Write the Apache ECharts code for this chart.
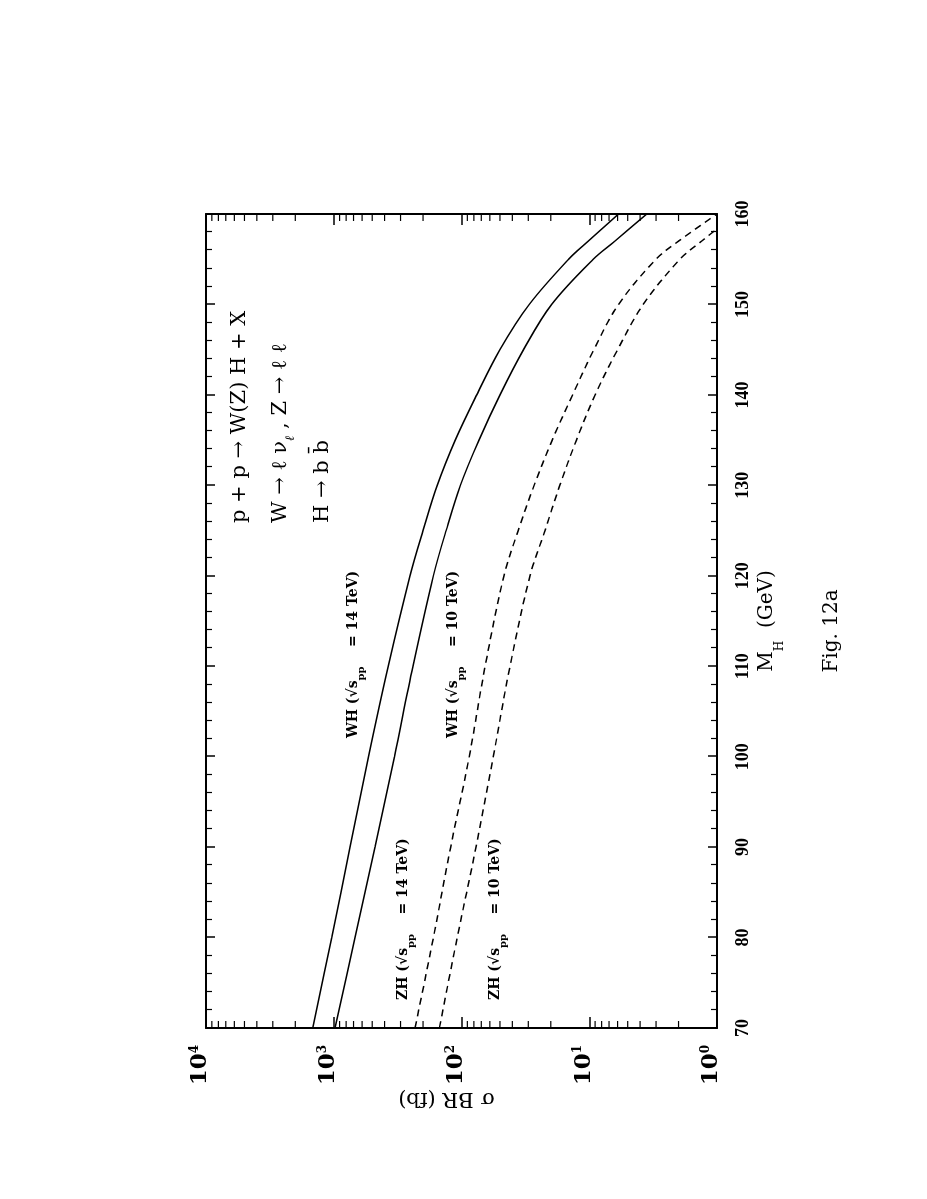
<!DOCTYPE html>
<html>
<head>
<meta charset="utf-8">
<script src="https://cdn.jsdelivr.net/npm/echarts@6/dist/echarts.min.js"></script>
<style>
  html, body { margin: 0; padding: 0; background: #fff; overflow: hidden; width: 927px; height: 1199px; }
  /* the figure is drawn in landscape and turned a quarter turn, like the scanned page */
  #main { position: absolute; left: -136px; top: 136px; width: 1199px; height: 927px; transform: rotate(-90deg); }
</style>
</head>
<body>
<div id="main"></div>
<script>
  // M_H (GeV)
  var massList = [70, 80, 90, 100, 110, 120, 125, 130, 135, 140, 145, 150, 155, 157, 160];
  // sigma * BR (fb)
  var wh14List = [1462, 1038, 745, 535, 375, 253, 200, 155, 112, 76, 50, 29.5, 14.5, 10.2, 5.9];
  var zh14List = [977, 682, 475, 335, 240, 166, 132, 102, 73, 50, 32.7, 19.7, 9.3, 6.3, 3.55];
  var wh10List = [231, 166, 121.6, 87, 65.3, 46.5, 36, 27, 19.5, 13.5, 9.2, 5.9, 3.0, 2.0, 1.0];
  var zh10List = [149, 108, 77, 56.4, 41.7, 29.1, 22.2, 17, 12.6, 9.0, 6.0, 3.78, 1.95, 1.32, 0.71];
  // small ticks of the log axis
  var minorTickList = [2, 3, 4, 5, 6, 7, 8, 9,
    20, 30, 40, 50, 60, 70, 80, 90,
    200, 300, 400, 500, 600, 700, 800, 900,
    2000, 3000, 4000, 5000, 6000, 7000, 8000, 9000];

  var serif = "'Liberation Serif', 'DejaVu Serif', serif";
  var wide = "'DejaVu Serif', 'Liberation Serif', serif";

  function pairs (yList) {
    return yList.map(function (y, i) { return [massList[i], y]; });
  }

  function curve (name, yList, dashed) {
    return {
      name: name,
      type: 'line',
      smooth: 0.35,
      showSymbol: false,
      symbol: 'none',
      clip: true,
      lineStyle: { color: '#000', width: 1.5, type: dashed ? [7, 5] : 'solid' },
      data: pairs(yList)
    };
  }

  var axisLine = { lineStyle: { color: '#000', width: 2 } };
  var labelRich = {
    a: { fontSize: 14, fontWeight: 'bold', fontFamily: wide, lineHeight: 18, verticalAlign: 'top' },
    b: { fontSize: 10, fontWeight: 'bold', fontFamily: wide, lineHeight: 10, padding: [10, 0, 0, 0], verticalAlign: 'top' }
  };
  var annRich = {
    a: { fontSize: 21, fontFamily: wide, lineHeight: 26, verticalAlign: 'top' },
    b: { fontSize: 13, fontFamily: wide, fontStyle: 'italic', lineHeight: 13, padding: [14, 0, 0, 0], verticalAlign: 'top' }
  };

  function note (x, y, text, rich) {
    return {
      type: 'text', x: x, y: y, silent: true,
      style: { text: text, rich: rich, fill: '#000', align: 'left', verticalAlign: 'middle', textAlign: 'left', textVerticalAlign: 'middle' }
    };
  }

  var myChart = echarts.init(document.getElementById('main'));
  let myOption = {
    animation: false,
    backgroundColor: '#fff',
    grid: { left: 171, right: 214, top: 206, bottom: 210 },
    xAxis: [
      {
        type: 'value', position: 'bottom', min: 70, max: 160, interval: 10,
        axisLine: axisLine,
        axisTick: { inside: true, length: 9, lineStyle: { color: '#000', width: 1.5 } },
        minorTick: { show: true, splitNumber: 5, length: 6, lineStyle: { color: '#000', width: 1.2 } },
        splitLine: { show: false },
        axisLabel: { margin: 17, color: '#000', fontSize: 18, fontWeight: 'bold', fontFamily: serif, showMinLabel: true, showMaxLabel: true },
        name: '{m|M}{s|H}{m|  (GeV)}',
        nameLocation: 'middle',
        nameGap: 36,
        nameTextStyle: {
          rich: {
            m: { fontSize: 20, fontFamily: wide, color: '#000', lineHeight: 24, verticalAlign: 'top' },
            s: { fontSize: 12, fontFamily: wide, color: '#000', lineHeight: 12, padding: [17, 0, 0, 0], verticalAlign: 'top' }
          }
        }
      },
      {
        type: 'value', position: 'top', min: 70, max: 160, interval: 10,
        axisLine: axisLine,
        axisTick: { inside: true, length: 9, lineStyle: { color: '#000', width: 1.5 } },
        minorTick: { show: true, splitNumber: 5, length: 6, lineStyle: { color: '#000', width: 1.2 } },
        splitLine: { show: false },
        axisLabel: { show: false }
      }
    ],
    yAxis: [
      {
        type: 'log', logBase: 10, position: 'left', min: 1, max: 10000,
        axisLine: axisLine,
        axisTick: { inside: true, length: 11, lineStyle: { color: '#000', width: 1.5 } },
        splitLine: { show: false },
        axisLabel: {
          margin: 17,
          formatter: function (v) {
            return '{b|10}{s|' + Math.round(Math.log10(v)) + '}';
          },
          rich: {
            b: { fontSize: 23, fontWeight: 'bold', fontFamily: wide, color: '#000', lineHeight: 34, verticalAlign: 'top' },
            s: { fontSize: 12, fontWeight: 'bold', fontFamily: wide, color: '#000', lineHeight: 10, verticalAlign: 'top' }
          }
        },
        name: 'σ BR (fb)',
        nameLocation: 'middle',
        nameGap: 60,
        nameMoveOverlap: false,
        nameTextStyle: { fontSize: 21, fontFamily: wide, color: '#000', padding: [0, 0, 0, 30] }
      },
      {
        type: 'log', logBase: 10, position: 'right', min: 1, max: 10000,
        axisLine: axisLine,
        axisTick: { inside: true, length: 11, lineStyle: { color: '#000', width: 1.5 } },
        splitLine: { show: false },
        axisLabel: { show: false }
      }
    ],
    graphic: [
      note(676, 242, '{a|p + p → W(Z) H + X}', annRich),
      note(676, 283, '{a|W → ℓ ν}{b|ℓ}{a| , Z → ℓ ℓ}', annRich),
      note(676, 325, '{a|H → b b\u0304}', annRich),
      note(461, 355, '{a|WH (√s}{b|pp}{a|    = 14 TeV)}', labelRich),
      note(461, 455, '{a|WH (√s}{b|pp}{a|    = 10 TeV)}', labelRich),
      note(199, 405, '{a|ZH (√s}{b|pp}{a|    = 14 TeV)}', labelRich),
      note(199, 497, '{a|ZH (√s}{b|pp}{a|    = 10 TeV)}', labelRich),
      {
        type: 'text', x: 568, y: 832, silent: true,
        style: { text: 'Fig. 12a', fontSize: 20, fontFamily: wide, fill: '#000', align: 'center', verticalAlign: 'middle', textAlign: 'center', textVerticalAlign: 'middle' }
      }
    ],
    series: [
      curve('WH 14 TeV', wh14List, false),
      curve('ZH 14 TeV', zh14List, false),
      curve('WH 10 TeV', wh10List, true),
      curve('ZH 10 TeV', zh10List, true),
      {
        // short log ticks on both edges
        type: 'custom',
        silent: true,
        data: minorTickList.map(function (v) { return [70, v]; }),
        renderItem: function (params, api) {
          var v = api.value(1);
          var a = api.coord([70, v]);
          var b = api.coord([160, v]);
          var st = { stroke: '#000', lineWidth: 1.2 };
          return {
            type: 'group',
            children: [
              { type: 'line', shape: { x1: a[0], y1: a[1], x2: a[0] + 7, y2: a[1] }, style: st },
              { type: 'line', shape: { x1: b[0], y1: b[1], x2: b[0] - 7, y2: b[1] }, style: st }
            ]
          };
        }
      }
    ]
  };
  myChart.setOption(myOption);
</script>
</body>
</html>
